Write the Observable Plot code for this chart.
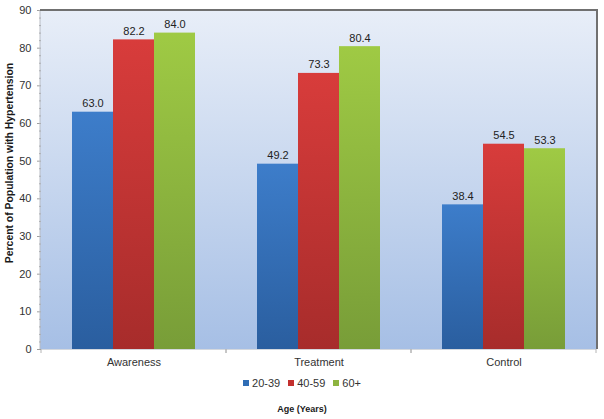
<!DOCTYPE html>
<html><head><meta charset="utf-8">
<script src="https://cdn.jsdelivr.net/npm/d3@7"></script>
<script src="https://cdn.jsdelivr.net/npm/@observablehq/plot@0.6"></script>
<style>
body{margin:0;background:#fff;font-family:"Liberation Sans",Arial,sans-serif;}
#chart{width:604px;}
#chart svg{display:block;}
g[aria-label="y-axis label"] text{font-weight:bold;fill:#1a1a1a;font-size:10.4px;}
.legend{display:flex;justify-content:center;align-items:center;height:14px;margin-top:4px;font-size:11px;color:#333;padding-left:0px;}
.legend .item{display:flex;align-items:center;margin:0 4px;}
.legend .sw{width:6px;height:6px;margin-right:3px;}
.xtitle{text-align:center;font-size:9px;font-weight:bold;color:#1a1a1a;margin-top:14px;padding-left:0px;}
</style></head><body>
<div id="chart"></div>
<script>
const categories = ["Awareness", "Treatment", "Control"];
const ageGroups = ["20-39", "40-59", "60+"];
const age20to39 = [63.0, 49.2, 38.4];
const age40to59 = [82.2, 73.3, 54.5];
const age60plus = [84.0, 80.4, 53.3];
const yTicks = [0, 10, 20, 30, 40, 50, 60, 70, 80, 90];
const yMinorTicks = [2,4,6,8,12,14,16,18,22,24,26,28,32,34,36,38,42,44,46,48,52,54,56,58,62,64,66,68,72,74,76,78,82,84,86,88];
const legendColors = ["#2f6db5", "#c3302e", "#8db43f"];
const barGradients = [["#3d7dca", "#2a5e9f"], ["#d83c3b", "#a72c2b"], ["#9fca44", "#789d38"]];
const yTitle = "Percent of Population with Hypertension";
const xTitle = "Age (Years)";

const seriesValues = [age20to39, age40to59, age60plus];
const data = categories.flatMap((c, i) => ageGroups.map((a, j) => ({category: c, age: a, value: seriesValues[j][i]})));

function boundaryTicks(index, scales, values, dims) {
  const g = d3.create("svg:g").attr("stroke", "#b4b4b4");
  const y0 = dims.height - dims.marginBottom;
  for (const x of [dims.marginLeft, dims.width - dims.marginRight]) {
    g.append("line").attr("x1", x).attr("x2", x).attr("y1", y0).attr("y2", y0 + 4);
  }
  return g.node();
}

const plot = Plot.plot({
  width: 604, height: 372,
  marginLeft: 40, marginRight: 7, marginTop: 10, marginBottom: 23,
  style: {fontFamily: "'Liberation Sans', Arial, sans-serif", fontSize: "11px", color: "#333", background: "transparent", overflow: "visible"},
  fx: {domain: categories, padding: 0, label: null, axis: "bottom", tickSize: 0, tickPadding: 9},
  x: {domain: ageGroups, paddingInner: 0, paddingOuter: 0.727, axis: null},
  y: {domain: [0, 90], axis: null},
  color: {domain: ageGroups, range: ageGroups.map((_, i) => `url(#barGrad${i})`)},
  marks: [
    Plot.barY(data, {fx: "category", x: "age", y: "value", fill: "age"}),
    Plot.text(data, {fx: "category", x: "age", y: "value", text: d => d.value.toFixed(1), lineAnchor: "bottom", dy: -5, fill: "#222", fontSize: 11}),
    Plot.ruleY([0], {stroke: "#d4d8de"}),
    boundaryTicks,
    Plot.axisY({ticks: yMinorTicks, tickSize: 2, text: null, label: null, stroke: "#a0a0a0"}),
    Plot.axisY({ticks: yTicks, tickSize: 4, tickPadding: 6, label: yTitle, labelAnchor: "center", labelArrow: "none", labelOffset: 36, fill: "#333", stroke: "#a0a0a0"})
  ]
});

const svg = d3.select(plot);
const defs = svg.insert("defs", ":first-child");
const bg = defs.append("linearGradient").attr("id", "bgGrad").attr("x1", 0).attr("y1", 0).attr("x2", 0).attr("y2", 1);
bg.append("stop").attr("offset", 0).attr("stop-color", "#e8eef8");
bg.append("stop").attr("offset", 1).attr("stop-color", "#a6bfe5");
barGradients.forEach(([top, bottom], i) => {
  const g = defs.append("linearGradient").attr("id", `barGrad${i}`).attr("x1", 0).attr("y1", 0).attr("x2", 0).attr("y2", 1);
  g.append("stop").attr("offset", 0).attr("stop-color", top);
  g.append("stop").attr("offset", 1).attr("stop-color", bottom);
});

const fxRange = plot.scale("fx").range;
const yRange = plot.scale("y").range;
const xl = Math.min(...fxRange), xr = Math.max(...fxRange);
const yb = Math.max(...yRange), yt = Math.min(...yRange);
svg.insert("rect", "g").attr("x", xl).attr("y", yt).attr("width", xr - xl).attr("height", yb - yt).attr("fill", "url(#bgGrad)");
svg.append("line").attr("x1", xl).attr("x2", xl).attr("y1", yt).attr("y2", yb).attr("stroke", "#b8bcc4");
svg.append("line").attr("x1", xl).attr("x2", xr).attr("y1", yt).attr("y2", yt).attr("stroke", "#707070").attr("stroke-width", 2);
svg.append("line").attr("x1", xr).attr("x2", xr).attr("y1", yt - 1).attr("y2", yb).attr("stroke", "#707070").attr("stroke-width", 2);

const yLabel = svg.select('g[aria-label="y-axis label"]');
if (!yLabel.empty()) yLabel.attr("transform", `translate(0,-17) ${yLabel.attr("transform") || ""}`);

const chart = document.getElementById("chart");
chart.appendChild(plot);

const legend = document.createElement("div");
legend.className = "legend";
ageGroups.forEach((a, i) => {
  const item = document.createElement("span");
  item.className = "item";
  const sw = document.createElement("span");
  sw.className = "sw";
  sw.style.background = legendColors[i];
  const lab = document.createElement("span");
  lab.textContent = a;
  item.appendChild(sw); item.appendChild(lab);
  legend.appendChild(item);
});
chart.appendChild(legend);

const xt = document.createElement("div");
xt.className = "xtitle";
xt.textContent = xTitle;
chart.appendChild(xt);
</script>
</body></html>
